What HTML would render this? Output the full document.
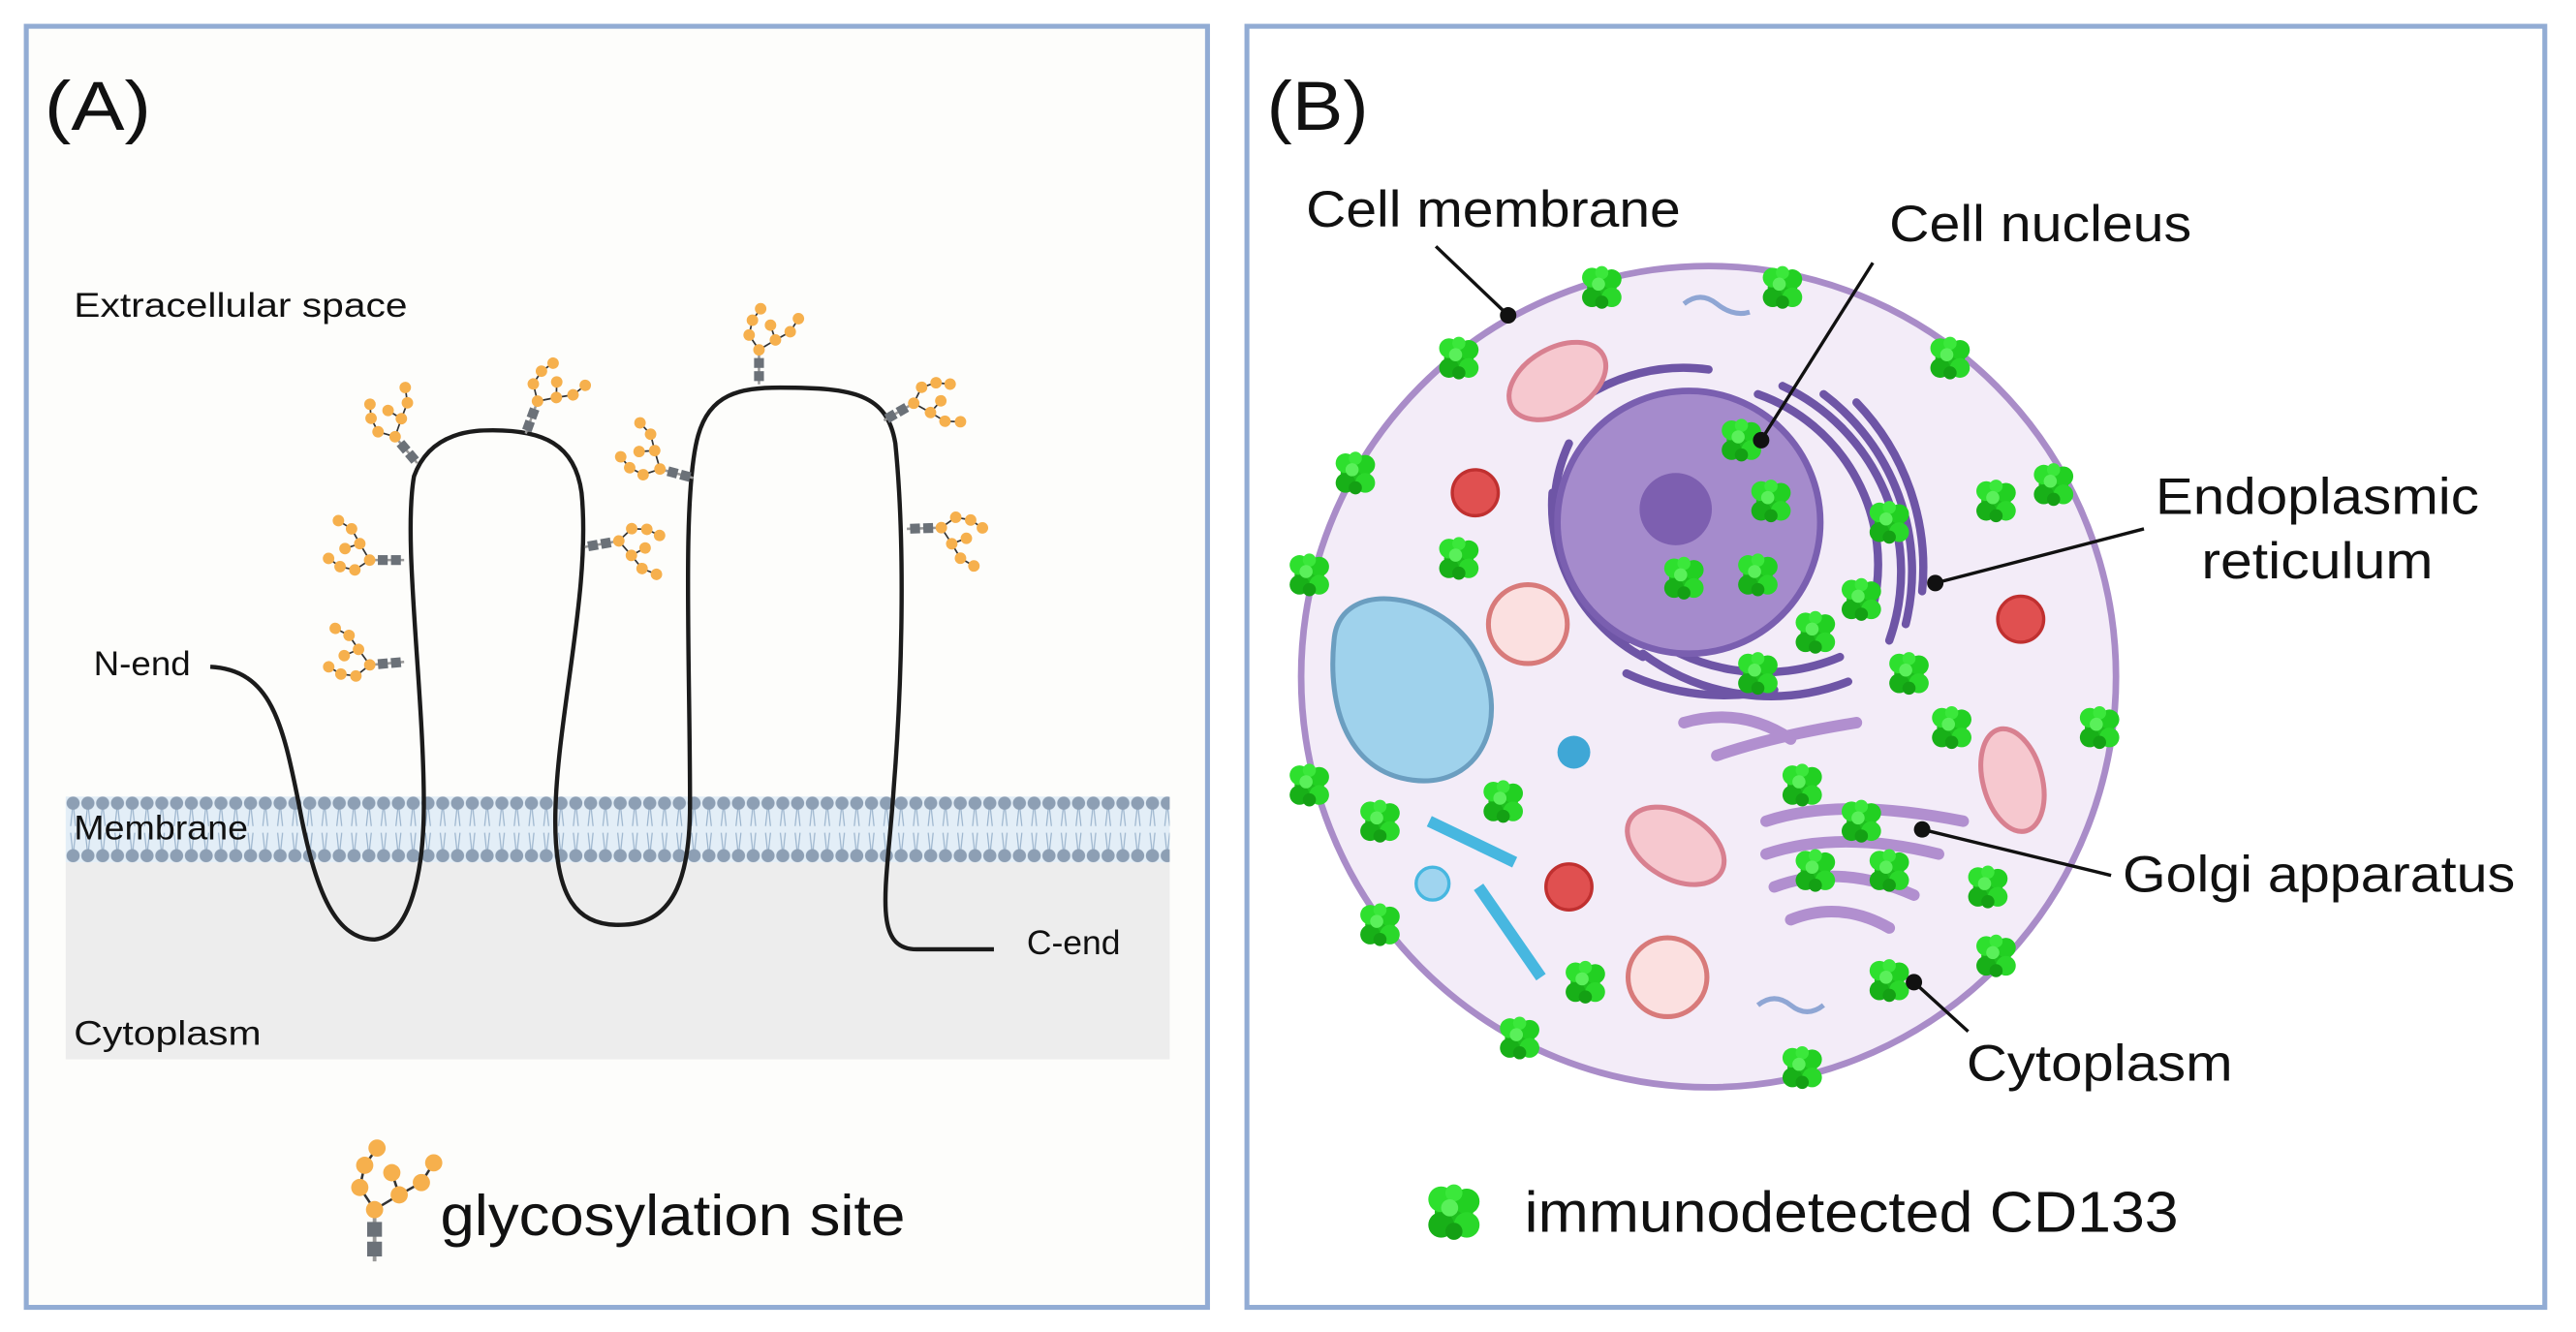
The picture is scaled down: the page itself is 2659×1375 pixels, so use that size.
<!DOCTYPE html>
<html><head><meta charset="utf-8"><style>
html,body{margin:0;padding:0;background:#fff}
svg{display:block}
text{font-family:"Liberation Sans",sans-serif;fill:#111}
</style></head><body>
<svg width="2659" height="1375" viewBox="0 0 1568 811" preserveAspectRatio="none" xmlns="http://www.w3.org/2000/svg">
<defs>
<g id="gly">
<line x1="0" y1="0" x2="0" y2="-20" stroke="#999" stroke-width="1.5"/>
<rect x="-3" y="-8" width="6" height="6" fill="#6b7178"/>
<rect x="-3" y="-16" width="6" height="6" fill="#6b7178"/>
<g stroke="#333" stroke-width="1">
<line x1="0" y1="-21" x2="-6" y2="-30"/><line x1="-6" y1="-30" x2="-4" y2="-39"/><line x1="-4" y1="-39" x2="1" y2="-46"/>
<line x1="0" y1="-21" x2="10" y2="-27"/><line x1="10" y1="-27" x2="7" y2="-36"/><line x1="10" y1="-27" x2="19" y2="-32"/><line x1="19" y1="-32" x2="24" y2="-40"/>
</g>
<g fill="#f6b04d">
<circle cx="0" cy="-21" r="3.5"/><circle cx="-6" cy="-30" r="3.5"/><circle cx="-4" cy="-39" r="3.5"/><circle cx="1" cy="-46" r="3.5"/>
<circle cx="10" cy="-27" r="3.5"/><circle cx="7" cy="-36" r="3.5"/><circle cx="19" cy="-32" r="3.5"/><circle cx="24" cy="-40" r="3.5"/>
</g>
</g>
<g id="cd">
<circle cx="0" cy="0" r="9" fill="#1fbf1f"/>
<circle cx="-6" cy="-6" r="6" fill="#2ee02e"/><circle cx="6" cy="-5" r="6" fill="#22d022"/>
<circle cx="-6" cy="6" r="6" fill="#18b018"/><circle cx="6" cy="6" r="6" fill="#2ad82a"/>
<circle cx="0" cy="-9" r="4" fill="#3be83b"/><circle cx="0" cy="9" r="4" fill="#14a014"/>
<circle cx="-2" cy="-2" r="4" fill="#5af05a"/>
</g>
<pattern id="lip" width="9" height="40" patternUnits="userSpaceOnUse" x="40" y="485">
<rect width="9" height="40" fill="#e3eef7"/>
<line x1="4.5" y1="4" x2="3" y2="18" stroke="#9ab3cc" stroke-width="0.7"/><line x1="4.5" y1="4" x2="6" y2="18" stroke="#9ab3cc" stroke-width="0.7"/>
<line x1="4.5" y1="36" x2="3" y2="22" stroke="#9ab3cc" stroke-width="0.7"/><line x1="4.5" y1="36" x2="6" y2="22" stroke="#9ab3cc" stroke-width="0.7"/>
<circle cx="4.5" cy="4" r="4" fill="#8d9fb4"/><circle cx="4.5" cy="36" r="4" fill="#8d9fb4"/>
</pattern>
</defs>

<!-- Panel A -->
<rect x="16" y="16" width="719" height="780" fill="#fdfdfb" stroke="#92acd4" stroke-width="3"/>
<text x="27" y="79" font-size="42" textLength="65" lengthAdjust="spacingAndGlyphs">(A)</text>
<text x="45" y="193" font-size="21" textLength="203" lengthAdjust="spacingAndGlyphs">Extracellular space</text>
<rect x="40" y="525" width="672" height="120" fill="#ededed"/>
<rect x="40" y="485" width="672" height="40" fill="url(#lip)"/>
<text x="45" y="511" font-size="21" textLength="106" lengthAdjust="spacingAndGlyphs">Membrane</text>
<text x="45" y="636" font-size="21" textLength="114" lengthAdjust="spacingAndGlyphs">Cytoplasm</text>
<text x="57" y="411" font-size="21" textLength="59" lengthAdjust="spacingAndGlyphs">N-end</text>
<text x="625" y="581" font-size="21" textLength="57" lengthAdjust="spacingAndGlyphs">C-end</text>
<path d="M128,406 C165,408 172,440 182,490 C192,545 205,572 228,572 C250,570 258,530 258,490 C258,420 245,330 252,290 C262,262 290,262 300,262 C330,262 350,270 354,300 C360,360 338,440 338,500 C338,545 350,565 380,563 C412,562 420,530 420,490 C420,400 415,300 425,265 C432,240 450,236 475,236 C520,236 540,240 545,270 C552,340 548,430 544,480 C540,540 530,578 558,578 L605,578" fill="none" stroke="#1b1b1b" stroke-width="2.6"/>
<use href="#gly" transform="translate(254,282) rotate(-40)"/>
<use href="#gly" transform="translate(320,264) rotate(20)"/>
<use href="#gly" transform="translate(246,341) rotate(-90)"/>
<use href="#gly" transform="translate(246,403) rotate(-95)"/>
<use href="#gly" transform="translate(356,333) rotate(80)"/>
<use href="#gly" transform="translate(422,291) rotate(-75)"/>
<use href="#gly" transform="translate(462,234) rotate(0)"/>
<use href="#gly" transform="translate(538,256) rotate(60)"/>
<use href="#gly" transform="translate(552,322) rotate(88)"/>
<use href="#gly" transform="translate(228,768) scale(1.5)"/>
<text x="268" y="752" font-size="35" textLength="283" lengthAdjust="spacingAndGlyphs">glycosylation site</text>

<!-- Panel B -->
<rect x="759" y="16" width="790" height="780" fill="#fff" stroke="#92acd4" stroke-width="3"/>
<text x="771" y="79" font-size="42" textLength="62" lengthAdjust="spacingAndGlyphs">(B)</text>
<ellipse cx="1040" cy="412" rx="248" ry="250" fill="#f3ecf8" stroke="#a98cc8" stroke-width="4"/>
<!-- ER arcs -->
<g fill="none" stroke="#6e55a6" stroke-width="5" stroke-linecap="round">
<path d="M955,270 A95,95 0 0 0 990,390"/><path d="M945,300 A105,105 0 0 0 1000,400"/>
<path d="M1070,240 A110,110 0 0 1 1140,370"/><path d="M1085,235 A125,125 0 0 1 1150,390"/>
<path d="M1110,240 A135,135 0 0 1 1160,380"/><path d="M1130,245 A145,145 0 0 1 1170,360"/>
<path d="M995,380 A120,120 0 0 0 1120,400"/><path d="M1000,398 A130,130 0 0 0 1125,415"/>
<path d="M990,410 A140,140 0 0 0 1080,420"/><path d="M960,245 A110,110 0 0 1 1040,225"/>
</g>
<circle cx="1028" cy="318" r="80" fill="#a58bcc" stroke="#7a5fb0" stroke-width="4"/>
<circle cx="1020" cy="310" r="22" fill="#7d5fb0"/>
<!-- Golgi -->
<g fill="none" stroke="#b18fcf" stroke-width="7" stroke-linecap="round">
<path d="M1075,500 Q1120,485 1195,500"/><path d="M1075,520 Q1120,505 1180,520"/>
<path d="M1080,540 Q1120,525 1165,545"/><path d="M1090,560 Q1120,548 1150,565"/>
<path d="M1025,440 Q1060,430 1090,450"/><path d="M1045,460 Q1080,448 1130,440"/>
</g>
<!-- vacuole -->
<path d="M812,390 C815,350 880,360 900,400 C920,440 900,480 860,475 C820,470 808,430 812,390Z" fill="#9fd2ec" stroke="#6b9ec0" stroke-width="3"/>
<!-- mitochondria -->
<g fill="#f6c8cf" stroke="#d88090" stroke-width="3">
<ellipse cx="948" cy="232" rx="32" ry="20" transform="rotate(-30 948 232)"/>
<ellipse cx="1020" cy="515" rx="32" ry="20" transform="rotate(30 1020 515)"/>
<ellipse cx="1225" cy="475" rx="18" ry="32" transform="rotate(-15 1225 475)"/>
</g>
<g fill="#fbe0e0" stroke="#d87a7a" stroke-width="3">
<circle cx="930" cy="380" r="24"/><circle cx="1015" cy="595" r="24"/>
</g>
<g fill="#e05050" stroke="#c03030" stroke-width="2">
<circle cx="898" cy="300" r="14"/><circle cx="955" cy="540" r="14"/><circle cx="1230" cy="377" r="14"/>
</g>
<circle cx="958" cy="458" r="10" fill="#3fa7d6"/>
<g stroke="#47b7e0" stroke-width="7"><line x1="870" y1="500" x2="922" y2="525"/><line x1="900" y1="540" x2="938" y2="595"/></g>
<circle cx="872" cy="538" r="10" fill="#9fd4ef" stroke="#47b7e0" stroke-width="2"/>
<path d="M1025,185 q10,-8 20,0 t20,5" fill="none" stroke="#8fa6d4" stroke-width="3"/>
<path d="M1070,612 q10,-8 20,0 t20,0" fill="none" stroke="#8fa6d4" stroke-width="3"/>
<!-- CD133 -->
<g>
<use href="#cd" x="975" y="175"/><use href="#cd" x="1085" y="175"/><use href="#cd" x="888" y="218"/><use href="#cd" x="1187" y="218"/>
<use href="#cd" x="825" y="288"/><use href="#cd" x="888" y="340"/><use href="#cd" x="797" y="350"/><use href="#cd" x="1060" y="268"/>
<use href="#cd" x="1078" y="305"/><use href="#cd" x="1025" y="352"/><use href="#cd" x="1070" y="350"/><use href="#cd" x="1150" y="318"/>
<use href="#cd" x="1133" y="365"/><use href="#cd" x="1105" y="385"/><use href="#cd" x="1070" y="410"/><use href="#cd" x="1162" y="410"/>
<use href="#cd" x="1215" y="305"/><use href="#cd" x="1250" y="295"/><use href="#cd" x="1188" y="443"/><use href="#cd" x="1278" y="443"/>
<use href="#cd" x="797" y="478"/><use href="#cd" x="840" y="500"/><use href="#cd" x="915" y="488"/><use href="#cd" x="1097" y="478"/>
<use href="#cd" x="1133" y="500"/><use href="#cd" x="1105" y="530"/><use href="#cd" x="1150" y="530"/><use href="#cd" x="1210" y="540"/>
<use href="#cd" x="840" y="563"/><use href="#cd" x="965" y="598"/><use href="#cd" x="1215" y="582"/><use href="#cd" x="1150" y="597"/>
<use href="#cd" x="925" y="632"/><use href="#cd" x="1097" y="650"/>
<use href="#cd" transform="translate(885,738) scale(1.3)"/>
</g>
<!-- pointers -->
<g stroke="#111" stroke-width="2">
<line x1="918" y1="192" x2="874" y2="150"/><line x1="1072" y1="268" x2="1140" y2="160"/>
<line x1="1178" y1="355" x2="1305" y2="322"/><line x1="1170" y1="505" x2="1285" y2="533"/>
<line x1="1165" y1="598" x2="1198" y2="628"/>
</g>
<g fill="#111"><circle cx="918" cy="192" r="5"/><circle cx="1072" cy="268" r="5"/><circle cx="1178" cy="355" r="5"/><circle cx="1170" cy="505" r="5"/><circle cx="1165" cy="598" r="5"/></g>
<text x="795" y="138" font-size="31" textLength="228" lengthAdjust="spacingAndGlyphs">Cell membrane</text>
<text x="1150" y="147" font-size="31" textLength="184" lengthAdjust="spacingAndGlyphs">Cell nucleus</text>
<text x="1312" y="313" font-size="31" textLength="197" lengthAdjust="spacingAndGlyphs">Endoplasmic</text>
<text x="1340" y="352" font-size="31" textLength="141" lengthAdjust="spacingAndGlyphs">reticulum</text>
<text x="1292" y="543" font-size="31" textLength="239" lengthAdjust="spacingAndGlyphs">Golgi apparatus</text>
<text x="1197" y="658" font-size="31" textLength="162" lengthAdjust="spacingAndGlyphs">Cytoplasm</text>
<text x="928" y="750" font-size="35" textLength="398" lengthAdjust="spacingAndGlyphs">immunodetected CD133</text>
</svg>
</body></html>
